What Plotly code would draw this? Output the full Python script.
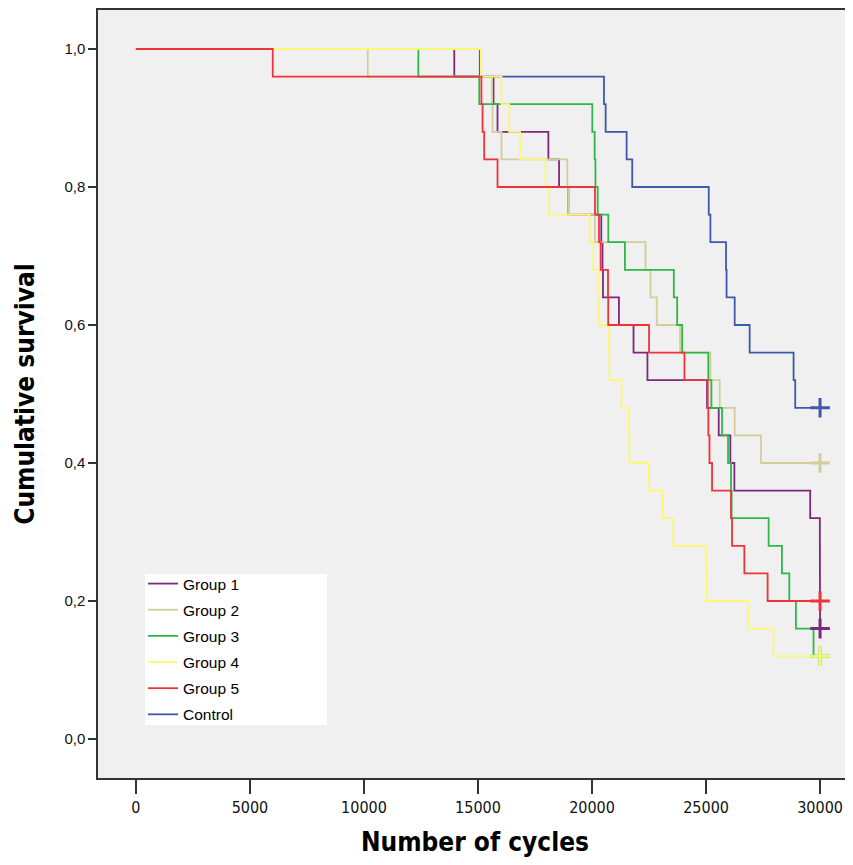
import plotly.graph_objects as go

# ---- data (Kaplan-Meier steps) ----
group_names = ["Group 1", "Group 2", "Group 3", "Group 4", "Group 5", "Control"]

g1_times = [0, 13960, 15680, 15856, 18086, 18554, 18962, 20406, 20460, 20480, 21180, 21820, 22430,
            25045, 25556, 26067, 26242, 29567, 29990, 29993, 29996, 29999, 30000]
g1_surv = [1.0, 0.96, 0.92, 0.88, 0.84, 0.80, 0.76, 0.72, 0.68, 0.64, 0.60, 0.56, 0.52,
           0.48, 0.44, 0.40, 0.36, 0.32, 0.28, 0.24, 0.20, 0.16, 0.16]

g2_times = [0, 10166, 15620, 15640, 16030, 18918, 18962, 20130, 22346, 22565, 22840, 23860,
            25191, 25600, 26256, 27410, 30000]
g2_surv = [1.0, 0.96, 0.92, 0.88, 0.84, 0.80, 0.76, 0.72, 0.68, 0.64, 0.60, 0.56,
           0.52, 0.48, 0.44, 0.40, 0.40]

g3_times = [0, 12384, 15054, 20012, 20115, 20150, 20250, 20714, 21442, 23587, 23733, 23952,
            25100, 25235, 25701, 25965, 26096, 26120, 27744, 28327, 28650, 28940, 29713, 30000]
g3_surv = [1.0, 0.96, 0.92, 0.88, 0.84, 0.80, 0.76, 0.72, 0.68, 0.64, 0.60, 0.56,
           0.52, 0.48, 0.44, 0.40, 0.36, 0.32, 0.28, 0.24, 0.20, 0.16, 0.12, 0.12]

g4_times = [0, 15126, 16030, 16366, 16848, 17970, 18117, 19897, 20056, 20275, 20290, 20742,
            20760, 21298, 21618, 21640, 22493, 23106, 23557, 25017, 25040, 26840, 27963, 30000]
g4_surv = [1.0, 0.96, 0.92, 0.88, 0.84, 0.80, 0.76, 0.72, 0.68, 0.64, 0.60, 0.56,
           0.52, 0.48, 0.44, 0.40, 0.36, 0.32, 0.28, 0.24, 0.20, 0.16, 0.12, 0.12]

g5_times = [0, 6000, 15150, 15200, 15272, 15856, 20130, 20305, 20378, 20700, 20710, 22500,
            24054, 25075, 25100, 25150, 25264, 26096, 26140, 26680, 27700, 30000]
g5_surv = [1.0, 0.96, 0.92, 0.88, 0.84, 0.80, 0.76, 0.72, 0.68, 0.64, 0.60, 0.56,
           0.52, 0.48, 0.44, 0.40, 0.36, 0.32, 0.28, 0.24, 0.20, 0.20]

ctrl_times = [0, 15080, 20523, 20597, 21517, 21763, 25118, 25191, 25876, 25900, 26256, 26912,
              28838, 28910, 30000]
ctrl_surv = [1.0, 0.96, 0.92, 0.88, 0.84, 0.80, 0.76, 0.72, 0.68, 0.64, 0.60, 0.56,
             0.52, 0.48, 0.48]

censor_time = 30000

x_ticks = [0, 5000, 10000, 15000, 20000, 25000, 30000]
y_ticks = [0.0, 0.2, 0.4, 0.6, 0.8, 1.0]

colors = {
    "Group 1": "#7c287d",
    "Group 2": "#d3ce97",
    "Group 3": "#2eb848",
    "Group 4": "#fbf873",
    "Group 5": "#ef3338",
    "Control": "#3e58ac",
}

series = {
    "Group 1": (g1_times, g1_surv),
    "Group 2": (g2_times, g2_surv),
    "Group 3": (g3_times, g3_surv),
    "Group 4": (g4_times, g4_surv),
    "Group 5": (g5_times, g5_surv),
    "Control": (ctrl_times, ctrl_surv),
}

draw_order = ["Control", "Group 1", "Group 2", "Group 3", "Group 4", "Group 5"]

fig = go.Figure()
for name in draw_order:
    t, s = series[name]
    rank = group_names.index(name)
    fig.add_trace(go.Scatter(
        x=t, y=s, mode="lines", name=name,
        line=dict(color=colors[name], width=1.8, shape="hv"),
        legendrank=rank + 1, legendgroup=name,
    ))
for name in draw_order:
    t, s = series[name]
    fig.add_trace(go.Scatter(
        x=[censor_time], y=[s[-1]], mode="markers", showlegend=False,
        marker=dict(symbol="cross-thin", size=14,
                    line=dict(color=colors[name], width=3)),
        legendgroup=name,
    ))

# page body has an 8px margin, so figure coords = screen coords - 8
OFF = 8
L, R, T, B = 98, 852, 10, 778          # plot frame in screen pixels
W, H = 853 - OFF, 865 - 2 * OFF        # keep the page inside the window
pw, ph = R - L, B - T
fig.add_shape(type="rect", xref="paper", yref="paper",
              x0=(145 - L) / pw, x1=(327 - L) / pw,
              y0=(B - 725) / ph, y1=(B - 574) / ph,
              fillcolor="white", line=dict(width=0), layer="below")

COND = "DejaVu Sans Condensed, Liberation Sans Narrow, Liberation Sans, Arial"

fig.update_layout(
    width=W, height=H,
    margin=dict(l=L - OFF, r=W - (R - OFF), t=T - OFF, b=H - (B - OFF), autoexpand=False),
    paper_bgcolor="white", plot_bgcolor="#f0f0f0",
    separators=",.",
    font=dict(family="Liberation Sans, Arial, sans-serif", color="#000000"),
    showlegend=True,
    legend=dict(
        x=(143 - L) / pw, y=(B - 567) / ph, xanchor="left", yanchor="top",
        bgcolor="rgba(0,0,0,0)", font=dict(size=15.5, color="#000"),
        tracegroupgap=3, itemwidth=30,
    ),
)
fig.update_xaxes(
    range=[-1663, 31400], tickvals=x_ticks, tickformat="d", automargin=False,
    ticks="outside", ticklen=14, tickwidth=1.5, tickcolor="#333",
    showline=True, linecolor="#333", linewidth=1.5, mirror=True,
    showgrid=False, zeroline=False,
    tickfont=dict(family=COND, size=16, color="#111"),
    title=dict(text="<b>Number of cycles</b>",
               font=dict(family=COND, size=26),
               standoff=26),
)
fig.update_yaxes(
    range=[-0.0565, 1.0565], tickvals=y_ticks, tickformat=".1f", automargin=False,
    ticks="outside", ticklen=8, tickwidth=1.5, tickcolor="#333",
    showline=True, linecolor="#333", linewidth=1.5, mirror=True,
    showgrid=False, zeroline=False,
    tickfont=dict(family="Liberation Sans, Arial", size=15, color="#111"),
    title=dict(text="<b>Cumulative survival</b>",
               font=dict(family=COND, size=26),
               standoff=22),
)

fig.write_html("out.html")
